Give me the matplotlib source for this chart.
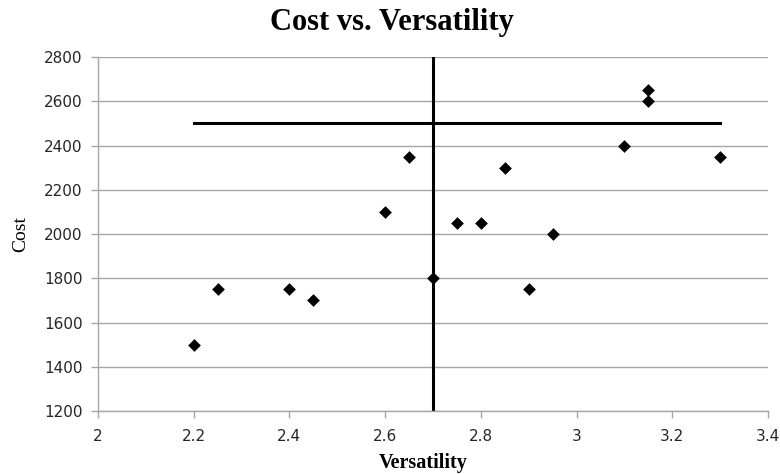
import matplotlib
matplotlib.use("Agg")
import matplotlib.pyplot as plt

# data
versatility = [2.2, 2.25, 2.4, 2.45, 2.6, 2.65, 2.7, 2.75, 2.8, 2.85, 2.9, 2.95, 3.1, 3.15, 3.15, 3.3]
cost = [1500, 1750, 1750, 1700, 2100, 2350, 1800, 2050, 2050, 2300, 1750, 2000, 2400, 2650, 2600, 2350]

# reference lines
h_line_y = 2500
h_line_x = [2.2, 3.3]
v_line_x = 2.7
v_line_y = [1200, 2800]

x_ticks = [2, 2.2, 2.4, 2.6, 2.8, 3, 3.2, 3.4]
x_labels = ["2", "2.2", "2.4", "2.6", "2.8", "3", "3.2", "3.4"]
y_ticks = [1200, 1400, 1600, 1800, 2000, 2200, 2400, 2600, 2800]

serif = ["Liberation Serif", "DejaVu Serif"]
grey = "#a6a6a6"

plt.rcParams["font.family"] = ["DejaVu Sans"]

fig = plt.figure(figsize=(7.8, 4.74), dpi=100)
ax = fig.add_axes([0.1256, 0.1329, 0.8590, 0.7468])

ax.yaxis.grid(True, color=grey, linewidth=1.0)
ax.set_axisbelow(True)

ax.plot(h_line_x, [h_line_y, h_line_y], color="black", linewidth=2.2, zorder=2)
ax.plot([v_line_x, v_line_x], v_line_y, color="black", linewidth=2.2, zorder=2)
ax.scatter(versatility, cost, marker="D", s=42, color="black", zorder=3, linewidths=0)

ax.set_xlim(2, 3.4)
ax.set_ylim(1200, 2800)
ax.set_xticks(x_ticks)
ax.set_xticklabels(x_labels)
ax.set_yticks(y_ticks)

for side in ["top", "right"]:
    ax.spines[side].set_visible(False)
for side in ["left", "bottom"]:
    ax.spines[side].set_color(grey)
    ax.spines[side].set_linewidth(1.0)

ax.tick_params(axis="both", colors=grey, length=5, width=1.0, labelsize=11,
               labelcolor="#262626")
ax.tick_params(axis="x", pad=8)
ax.tick_params(axis="y", pad=6)

# title and labels sit centred on the figure, not the axes
fig.text(0.5026, 0.953, "Cost vs. Versatility", family=serif, fontweight="bold",
         fontsize=22, ha="center", va="center")
fig.text(0.5423, 0.023, "Versatility", family=serif, fontweight="bold",
         fontsize=14.5, ha="center", va="center")
fig.text(0.026, 0.506, "Cost", family=serif, fontsize=14,
         rotation=90, ha="center", va="center")

fig.savefig("out.png", dpi=100)
